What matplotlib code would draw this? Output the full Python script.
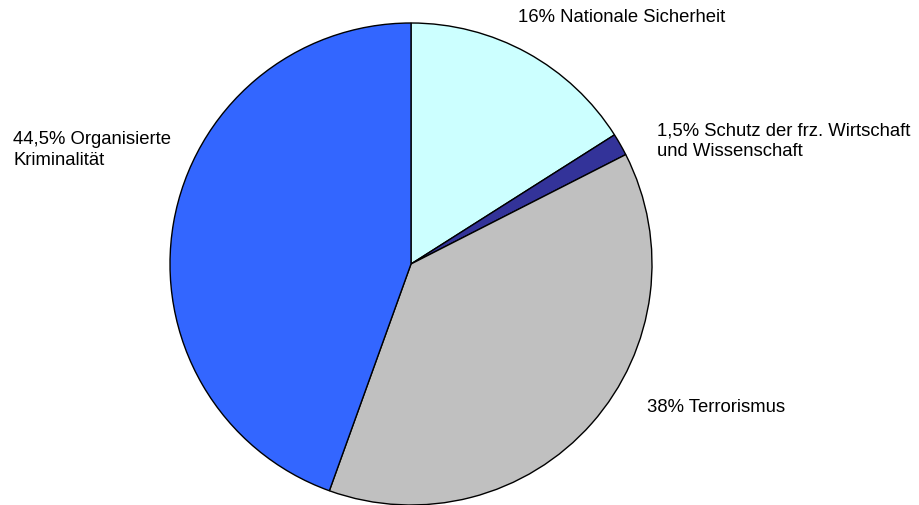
import matplotlib
matplotlib.use("Agg")
import matplotlib.pyplot as plt

labels = ["16% Nationale Sicherheit",
          "1,5% Schutz der frz. Wirtschaft\nund Wissenschaft",
          "38% Terrorismus",
          "44,5% Organisierte\nKriminalität"]
shares = [16, 1.5, 38, 44.5]
colors = ["#CCFFFF", "#333399", "#C0C0C0", "#3366FF"]
label_pos = [(518, 17), (657, 141), (647, 408), (13, 150)]

plt.rcParams['font.family'] = ['Liberation Sans', 'DejaVu Sans']

fig = plt.figure(figsize=(9.19, 5.06), dpi=100)
ax = fig.add_axes([0, 0, 1, 1])

ax.pie(shares, colors=colors, startangle=90, counterclock=False,
       center=(411, 241), radius=241, frame=True,
       wedgeprops=dict(edgecolor='black', linewidth=1.0))
ax.set_xlim(0, 919)
ax.set_ylim(0, 506)
ax.set_aspect('equal')
ax.axis('off')

for txt, (x, y) in zip(labels, label_pos):
    ax.text(x, 506 - y, txt, fontsize=13.3, ha='left', va='center', linespacing=1.3)

fig.savefig("out.png", dpi=100)
